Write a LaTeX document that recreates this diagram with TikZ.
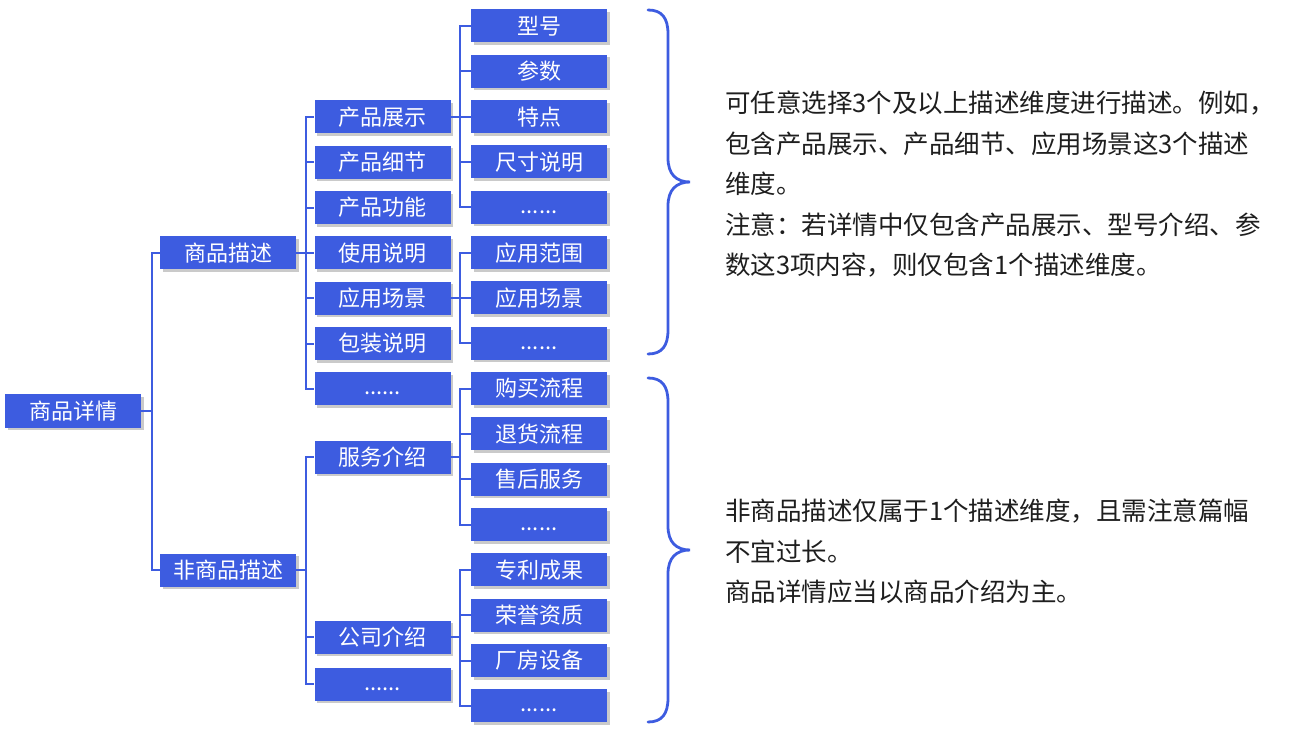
\documentclass[tikz,border=0pt]{standalone}
\usepackage{fontspec}
\setmainfont{Noto Sans CJK SC}
\usepackage{xcolor}
\usetikzlibrary{positioning, shadows}

\definecolor{boxblue}{RGB}{61,92,224}
\definecolor{textdark}{RGB}{30,30,30}
\newcommand{\moredots}{\smash{\raisebox{-6pt}{......}}}

\begin{document}
\begin{tikzpicture}[
    x=1pt, y=-1pt,
    itembox/.style={fill=boxblue, text=white, minimum width=136pt, minimum height=33pt,
      inner sep=0pt, font=\fontsize{22}{24}\selectfont,
      drop shadow={shadow xshift=2.5pt, shadow yshift=-2.5pt, opacity=0.35, fill=black!60}},
    link/.style={draw=boxblue, line width=2pt},
    brace/.style={draw=boxblue, line width=2.8pt, line cap=round},
    note/.style={anchor=north west, align=left, text=textdark, inner sep=0pt,
      font=\fontsize{25.5}{40.5}\selectfont}
]
  \useasboundingbox (0,0) rectangle (1302,735);

  % Nodes
  \node[itembox] (root) at (73,411) {商品详情};

  \node[itembox] (goods) at (228,253) {商品描述};
  \node[itembox] (other) at (228,570) {非商品描述};

  \foreach \name/\label [count=\i] in {show/产品展示, detail/产品细节, func/产品功能,
      usage/使用说明, scene/应用场景, pack/包装说明, gmore/\moredots}
    \node[itembox] (\name) at (382.5,{117+(\i-1)*45.33}) {\label};
  \node[itembox] (service) at (382.5,457) {服务介绍};
  \node[itembox] (company) at (382.5,637) {公司介绍};
  \node[itembox] (omore) at (382.5,684) {\moredots};

  \foreach \label [count=\i] in {型号, 参数, 特点, 尺寸说明, \moredots, 应用范围, 应用场景, \moredots,
      购买流程, 退货流程, 售后服务, \moredots, 专利成果, 荣誉资质, 厂房设备, \moredots}
    \node[itembox] (leaf\i) at (539,{26+(\i-1)*45.33}) {\label};

  % Connectors
  \foreach \child in {goods, other}
    \draw[link] (root.east) -- ++(11,0) |- (\child.west);
  \foreach \child in {show, detail, func, usage, scene, pack, gmore}
    \draw[link] (goods.east) -- ++(10,0) |- (\child.west);
  \foreach \child in {service, company, omore}
    \draw[link] (other.east) -- ++(10,0) |- (\child.west);
  \foreach \i in {1,...,5}
    \draw[link] (show.east) -- ++(9,0) |- (leaf\i.west);
  \foreach \i in {6,7,8}
    \draw[link] (scene.east) -- ++(9,0) |- (leaf\i.west);
  \foreach \i in {9,...,12}
    \draw[link] (service.east) -- ++(9,0) |- (leaf\i.west);
  \foreach \i in {13,...,16}
    \draw[link] (company.east) -- ++(9,0) |- (leaf\i.west);

  % Braces
  \foreach \dy in {0,368}
    \draw[brace] (648,10+\dy) .. controls (662,10+\dy) and (668,18+\dy) .. (668,34+\dy)
      -- (668,158+\dy) .. controls (668,174+\dy) and (676,182+\dy) .. (690,182+\dy)
      .. controls (676,182+\dy) and (668,190+\dy) .. (668,206+\dy)
      -- (668,330+\dy) .. controls (668,346+\dy) and (662,354+\dy) .. (648,354+\dy);

  % Notes
  \node[note] (note1) at (725,91) {可任意选择3个及以上描述维度进行描述。例如，\\
    包含产品展示、产品细节、应用场景这3个描述\\
    维度。\\
    注意：若详情中仅包含产品展示、型号介绍、参\\
    数这3项内容，则仅包含1个描述维度。};
  \node[note] (note2) at (725,499) {非商品描述仅属于1个描述维度，且需注意篇幅\\
    不宜过长。\\
    商品详情应当以商品介绍为主。};

\end{tikzpicture}
\end{document}
